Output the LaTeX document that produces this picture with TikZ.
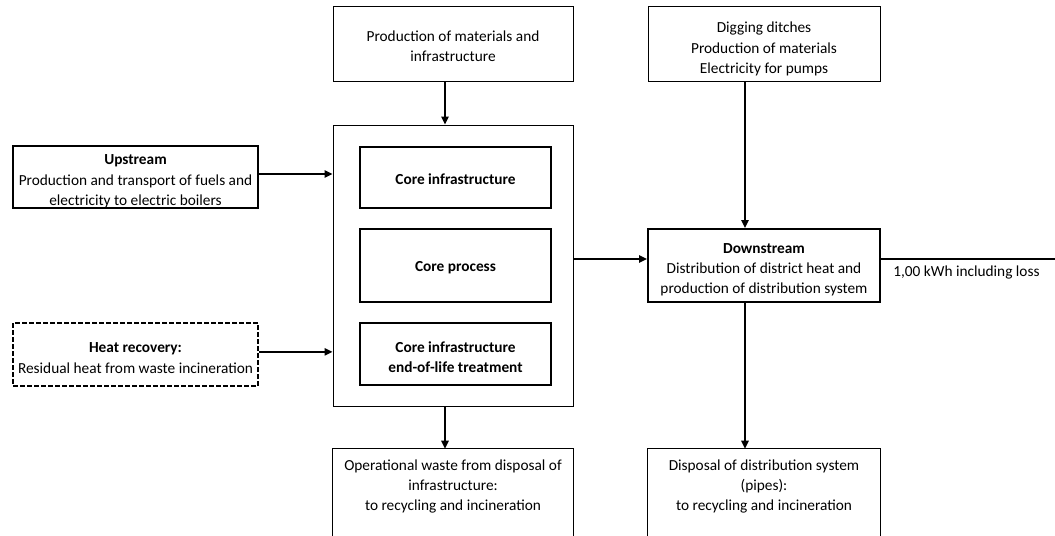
\documentclass[tikz,border=0pt]{standalone}
\usepackage{fontspec}
\setmainfont{Carlito}
\usetikzlibrary{arrows.meta}

% pushes the first line down a little, as in the original layout
\newcommand{\topgap}[1][14pt]{\rule{0pt}{#1}}

\tikzset{
  box/.style={draw, line width=0.75pt, align=center, inner sep=0pt},
  thickbox/.style={box, line width=1.5pt},
  dashbox/.style={thickbox, dash pattern=on 3.75pt off 1.5pt},
  plain/.style={align=center, inner sep=0pt},
  arr/.style={-{Triangle[length=6pt,width=5.5pt]}, line width=1.2pt},
  flow/.style={line width=1.2pt},
}

\begin{document}
\begin{tikzpicture}[x=0.75pt,y=-0.75pt,font=\fontsize{11.5}{15.2}\selectfont]
\useasboundingbox (0,0) rectangle (1055,535);
\fill[white] (0,0) rectangle (1055,535);

% inputs on top
\node[box, minimum width=180pt, minimum height=55.5pt] (prod) at (453,44) {\topgap[11.5pt]Production of materials and\\infrastructure};
\node[box, minimum width=174pt, minimum height=55.5pt] (dig) at (764,44) {\topgap[15.5pt]Digging ditches\\Production of materials\\Electricity for pumps};

% inputs on the left
\node[thickbox, minimum width=183.75pt, minimum height=46.5pt] (up) at (135.5,177) {\topgap\textbf{Upstream}\\Production and transport of fuels and\\electricity to electric boilers};
\node[dashbox, minimum width=183.75pt, minimum height=47.25pt] (heat) at (135.5,354.5) {\topgap[13pt]\textbf{Heat recovery:}\\Residual heat from waste incineration};

% core
\node[box, minimum width=180pt, minimum height=210.75pt] (big) at (453,265.5) {};
\node[thickbox, minimum width=143.25pt, minimum height=45.75pt] (cinf) at (455.5,177.5) {\topgap[11pt]\textbf{Core infrastructure}};
\node[thickbox, minimum width=143.25pt, minimum height=54.75pt] (cproc) at (455.5,265.5) {\topgap[11pt]\textbf{Core process}};
\node[thickbox, minimum width=143.25pt, minimum height=46.5pt] (ceol) at (455.5,354) {\topgap[13pt]\textbf{Core infrastructure}\\\textbf{end-of-life treatment}};

% downstream
\node[thickbox, minimum width=174pt, minimum height=54.75pt] (down) at (764,265.5) {\topgap\textbf{Downstream}\\Distribution of district heat and\\production of distribution system};
\node[plain, anchor=west] (loss) at (893,272) {1,00 kWh including loss};

% outputs at the bottom (cut off by the page)
\node[plain, minimum width=180pt, minimum height=52.5pt] (opw) at (453,484) {\topgap[11.5pt]Operational waste from disposal of\\infrastructure:\\to recycling and incineration};
\node[plain, minimum width=174pt, minimum height=52.5pt] (disp) at (764,484) {\topgap[11.5pt]Disposal of distribution system\\(pipes):\\to recycling and incineration};
\draw[line width=0.75pt] ([yshift=-40pt]opw.south west) -- (opw.north west) -- (opw.north east) -- ([yshift=-40pt]opw.south east);
\draw[line width=0.75pt] ([yshift=-40pt]disp.south west) -- (disp.north west) -- (disp.north east) -- ([yshift=-40pt]disp.south east);

\coordinate (lx) at (445,0);
\coordinate (rx) at (745,0);
\coordinate (outend) at (1055,259);

\draw[arr] (prod.south -| lx) -- (big.north -| lx);
\draw[arr] (big.south -| lx) -- (opw.north -| lx);
\draw[arr] (dig.south -| rx) -- (down.north -| rx);
\draw[arr] (down.south -| rx) -- (disp.north -| rx);
\draw[arr] ([yshift=2.25pt]up.east) -- ([yshift=2.25pt]up.east -| big.west);
\draw[arr] ([yshift=2pt]heat.east) -- ([yshift=2pt]heat.east -| big.west);
\draw[arr] (big.east |- outend) -- (down.west |- outend);
\draw[flow] (down.east |- outend) -- (outend);
\end{tikzpicture}
\end{document}
